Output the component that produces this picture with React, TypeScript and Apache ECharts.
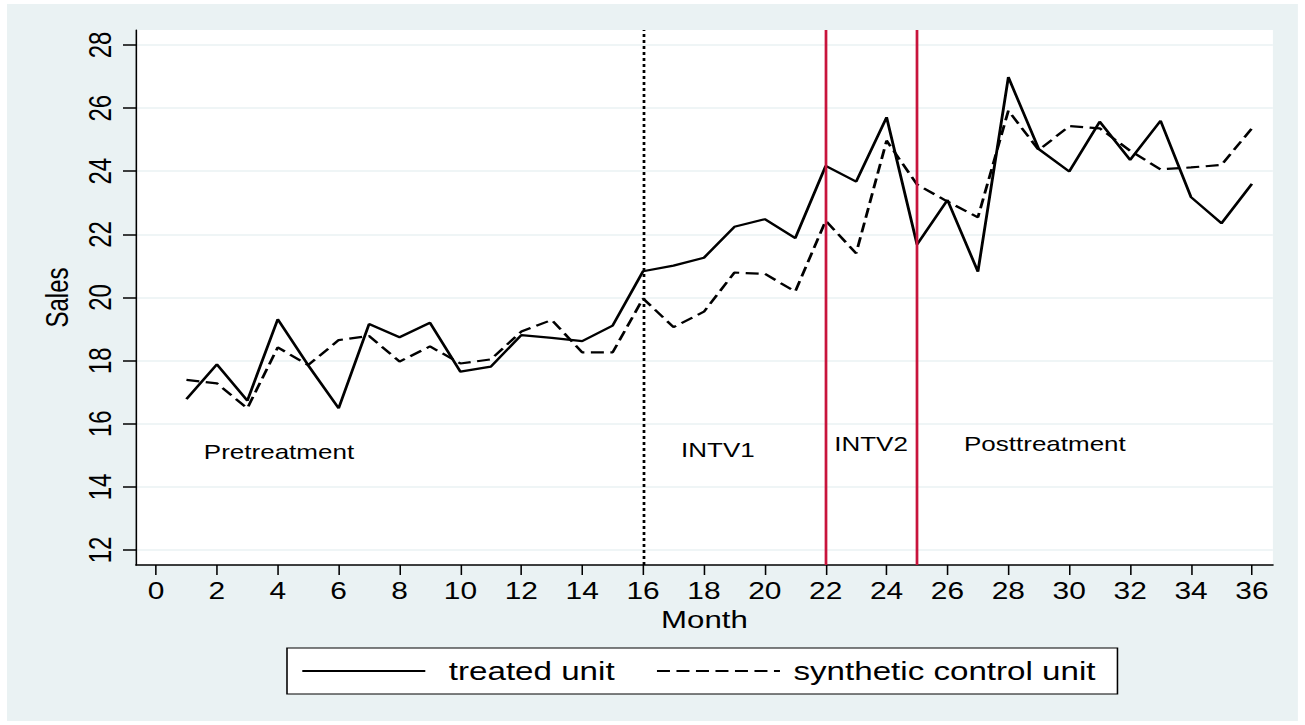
import React, { useEffect, useRef } from "react";
import * as echarts from "echarts";

// ---- data ----
const months = [1, 2, 3, 4, 5, 6, 7, 8, 9, 10, 11, 12, 13, 14, 15, 16, 17, 18, 19, 20, 21, 22, 23, 24, 25, 26, 27, 28, 29, 30, 31, 32, 33, 34, 35, 36];
const treatedUnit = [16.78, 17.88, 16.73, 19.31, 17.85, 16.49, 19.16, 18.74, 19.2, 17.65, 17.81, 18.81, 18.72, 18.62, 19.11, 20.83, 21.01, 21.26, 22.24, 22.48, 21.88, 24.17, 23.67, 25.71, 21.68, 23.09, 20.82, 26.98, 24.7, 23.99, 25.57, 24.36, 25.6, 23.18, 22.35, 23.6];
const syntheticUnit = [17.39, 17.28, 16.49, 18.42, 17.86, 18.65, 18.78, 17.97, 18.45, 17.91, 18.04, 18.92, 19.29, 18.26, 18.26, 19.97, 19.06, 19.55, 20.79, 20.75, 20.19, 22.43, 21.4, 24.97, 23.58, 23.04, 22.54, 25.92, 24.67, 25.43, 25.36, 24.65, 24.06, 24.12, 24.2, 25.36];
const xTicks = [0, 2, 4, 6, 8, 10, 12, 14, 16, 18, 20, 22, 24, 26, 28, 30, 32, 34, 36];
const yTicks = [12, 14, 16, 18, 20, 22, 24, 26, 28];
const seriesNames = ["treated unit", "synthetic control unit"];
const dottedLineMonth = 16;
const redLineMonths = [22, 25];
const phaseLabels = ["Pretreatment", "INTV1", "INTV2", "Posttreatment"];
const phaseLabelX = [4.04, 18.46, 23.49, 29.2];
const phaseLabelY = [15.1, 15.17, 15.36, 15.36];

const FONT = '"Liberation Sans", Arial, Helvetica, sans-serif';
const BG = "#EAF2F3";
const RED = "#C8143C";

// The reference graph is horizontally stretched; reproduce that with a CSS scaleX.
const S = 1.3;
const OUTER_W = 1291;
const OUTER_H = 717;
const sx = (v: number) => v / S;

export default function App() {
  const ref = useRef<HTMLDivElement>(null);

  useEffect(() => {
    if (!ref.current) return;
    const chart = echarts.init(ref.current, undefined, { renderer: "svg" });

    const option: any = {
      animation: false,
      backgroundColor: BG,
      textStyle: { fontFamily: FONT, color: "#000" },
      grid: {
        left: sx(129),
        right: sx(25),
        top: 26,
        bottom: 156,
        show: true,
        backgroundColor: "#ffffff",
        borderWidth: 0,
      },
      xAxis: {
        type: "value",
        min: -0.657,
        max: 36.69,
        name: "Month",
        nameLocation: "middle",
        nameGap: 42,
        nameTextStyle: { fontSize: 24, color: "#000", fontFamily: FONT },
        axisLine: { show: true, onZero: false, lineStyle: { color: "#000", width: 1.5 } },
        axisTick: { show: true, length: 10, customValues: xTicks, lineStyle: { color: "#000", width: 1.2 } },
        axisLabel: { customValues: xTicks, fontSize: 23, color: "#000", margin: 15, fontFamily: FONT },
        splitLine: { show: false },
      },
      yAxis: {
        type: "value",
        min: 11.525,
        max: 28.475,
        name: "Sales",
        nameLocation: "middle",
        nameGap: sx(58) + 4,
        nameTextStyle: { fontSize: 24, color: "#000", fontFamily: FONT },
        axisLine: { show: true, onZero: false, lineStyle: { color: "#000", width: 1.2 } },
        axisTick: { show: true, length: sx(13), customValues: yTicks, lineStyle: { color: "#000", width: 1.5 } },
        axisLabel: { customValues: yTicks, rotate: 90, fontSize: 24, color: "#000", margin: sx(20), fontFamily: FONT },
        splitLine: { show: true, lineStyle: { color: BG, width: 1.5 } },
      },
      legend: {
        left: sx(280),
        top: 644,
        orient: "horizontal",
        data: [
          { name: seriesNames[0], textStyle: { width: sx(162), padding: [0, 0, 0, sx(17)] } },
          { name: seriesNames[1], textStyle: { width: sx(305), padding: [0, 0, 0, sx(7)] } },
        ],
        itemWidth: sx(123),
        itemHeight: 14,
        itemGap: sx(41),
        padding: [8, sx(19), 8, sx(14)],
        backgroundColor: "#ffffff",
        borderColor: "#000",
        borderWidth: 1.2,
        borderRadius: 0,
        itemStyle: { color: "transparent", borderWidth: 0, opacity: 0 },
        textStyle: { fontSize: 25.5, color: "#000", lineHeight: 30, fontFamily: FONT },
      },
      series: [
        {
          name: seriesNames[0],
          type: "line",
          data: months.map((m, i) => [m, treatedUnit[i]]),
          symbol: "none",
          lineStyle: { color: "#000", width: 2.2, type: "solid" },
          itemStyle: { color: "#000" },
          markLine: {
            silent: true,
            symbol: ["none", "none"],
            label: { show: false },
            data: [
              { xAxis: dottedLineMonth, lineStyle: { color: "#000", width: 2.1, type: [3, 3] } },
              ...redLineMonths.map((m) => ({ xAxis: m, lineStyle: { color: RED, width: 2.1, type: "solid" } })),
            ],
          },
          markPoint: {
            silent: true,
            symbol: "circle",
            symbolSize: 0,
            label: {
              show: true,
              position: "inside",
              formatter: "{b}",
              fontSize: 20,
              color: "#000",
              fontFamily: FONT,
            },
            data: phaseLabels.map((name, i) => ({ name, coord: [phaseLabelX[i], phaseLabelY[i]] })),
          },
        },
        {
          name: seriesNames[1],
          type: "line",
          data: months.map((m, i) => [m, syntheticUnit[i]]),
          symbol: "none",
          lineStyle: { color: "#000", width: 2.2, type: [10, 5] },
          itemStyle: { color: "#000" },
        },
      ],
    };

    chart.setOption(option);
    return () => chart.dispose();
  }, []);

  return (
    <div style={{ position: "absolute", left: 0, top: 0, width: 1305, height: 725, background: "#ffffff", overflow: "hidden" }}>
      <div
        ref={ref}
        style={{
          position: "absolute",
          left: 7,
          top: 4,
          width: OUTER_W / S,
          height: OUTER_H,
          transform: `scaleX(${S})`,
          transformOrigin: "left top",
        }}
      />
    </div>
  );
}
